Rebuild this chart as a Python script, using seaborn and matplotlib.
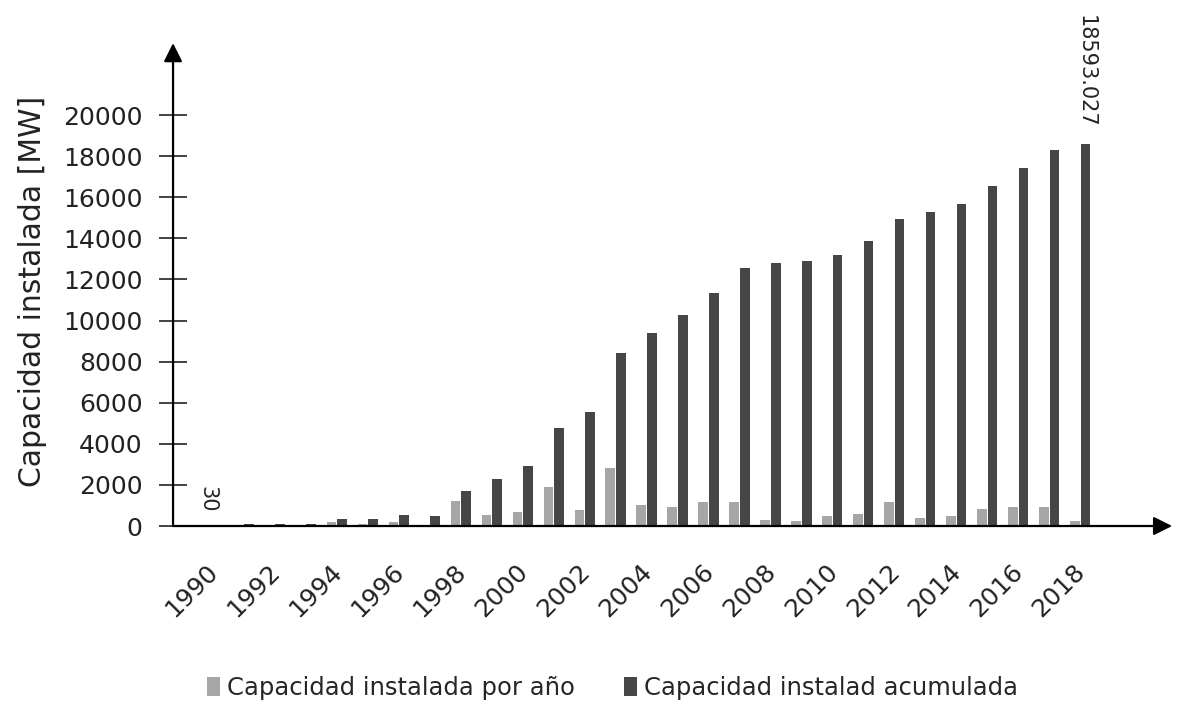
import pandas as pd
import matplotlib.pyplot as plt
import seaborn as sns
from matplotlib.transforms import ScaledTranslation

# --- Data ---
years = list(range(1990, 2019))
anual = [30, 20, 30, 20, 200, 90, 210, 40, 1230, 520,
         660, 1900, 780, 2800, 1030, 940, 1180, 1180, 290, 240,
         490, 600, 1170, 370, 490, 810, 930, 930, 240]
acumulada = [60, 80, 90, 90, 330, 330, 540, 490, 1725, 2300,
             2920, 4790, 5530, 8400, 9370, 10250, 11320, 12540, 12790, 12890,
             13190, 13860, 14950, 15270, 15680, 16550, 17430, 18300, 18593.027]
series_names = ["Capacidad instalada por año", "Capacidad instalad acumulada"]
colors = ["#a6a6a6", "#464646"]
y_ticks = list(range(0, 20001, 2000))

# --- Setup ---
sns.set_theme(style="white")
plt.rcParams['font.family'] = ['DejaVu Sans']

df = pd.DataFrame({
    "year": years * 2,
    "valor": anual + acumulada,
    "serie": [series_names[0]] * len(years) + [series_names[1]] * len(years),
})

fig = plt.figure(figsize=(11.78, 7.07), dpi=100)
ax = fig.add_axes([0.1469, 0.256, 0.8481, 0.683])

sns.barplot(data=df, x="year", y="valor", hue="serie", palette=colors,
            width=0.68, gap=0.08, linewidth=0, ax=ax)

# --- Axes styling ---
ax.set_xlim(-1.29, 30.97)
ax.set_ylim(0, 23500)
for side in ["top", "right", "left", "bottom"]:
    ax.spines[side].set_visible(False)
ax.annotate("", xy=(0, 1), xytext=(0, 0), xycoords="axes fraction",
            arrowprops=dict(arrowstyle="-|>", color="black", lw=1.6,
                            mutation_scale=28, shrinkA=0, shrinkB=0))
ax.annotate("", xy=(1, 0), xytext=(0, 0), xycoords="axes fraction",
            arrowprops=dict(arrowstyle="-|>", color="black", lw=1.6,
                            mutation_scale=28, shrinkA=0, shrinkB=0))

ax.set_yticks(y_ticks)
ax.tick_params(axis="y", direction="inout", length=20, width=1.2,
               labelsize=18, pad=12, left=True, colors="#222222")
ax.set_xticks(range(0, len(years), 2))
ax.set_xticklabels([str(y) for y in years[::2]], rotation=45, ha="right",
                   rotation_mode="anchor", fontsize=18, color="#222222")
ax.tick_params(axis="x", length=0, pad=24)
for lab in ax.get_xticklabels():
    lab.set_transform(lab.get_transform() + ScaledTranslation(-0.07, 0, fig.dpi_scale_trans))

ax.set_xlabel("")
ax.set_ylabel("Capacidad instalada [MW]", fontsize=21.5, color="#222222")
ax.yaxis.set_label_coords(-0.126, 0.486)

# --- Value labels ---
ax.bar_label(ax.containers[0], labels=["30"] + [""] * (len(years) - 1),
             padding=9, rotation=-90, fontsize=15, color="#222222")
ax.bar_label(ax.containers[1], labels=[""] * (len(years) - 1) + ["18593.027"],
             padding=12, rotation=-90, fontsize=15, color="#222222")

# --- Legend ---
sns.move_legend(ax, "center", bbox_to_anchor=(0.52, 0.027),
                bbox_transform=fig.transFigure, ncol=2, frameon=False,
                title=None, fontsize=17.5, handlelength=0.55, handleheight=0.8,
                handletextpad=0.3, columnspacing=2.0)

fig.savefig("out.png", dpi=100)
